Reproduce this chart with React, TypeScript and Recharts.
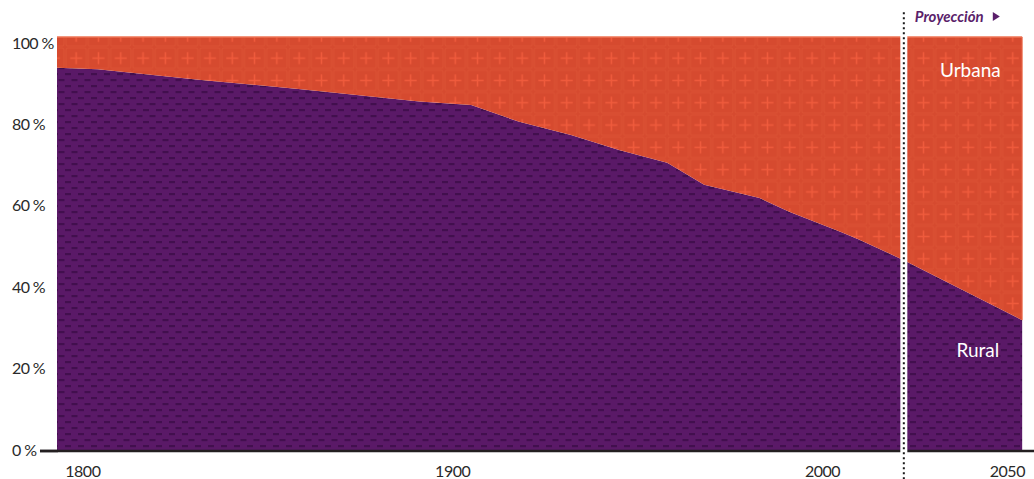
import React from 'react';
import { AreaChart, Area, XAxis, YAxis, ReferenceLine, ReferenceDot } from 'recharts';

// share of world population (%)
const years = [1793, 1804, 1832, 1859, 1891, 1905, 1918, 1932, 1945, 1958, 1962, 1968, 1983, 1991, 2005, 2010, 2022, 2054];
const rural = [92.6, 92.2, 89.6, 87.4, 84.4, 83.6, 79.5, 76.3, 72.7, 69.6, 67.5, 64.3, 61.1, 57.8, 52.9, 51.0, 46.1, 31.6];
const xTicks = [1800, 1900, 2000, 2050];
const yTicks = [0, 20, 40, 60, 80, 100];
const projectionYear = 2022;

const data = years.map((year, i) => ({
    year,
    rural: rural[i],
    urban: +(100 - rural[i]).toFixed(1)
}));

const FONT = 'Lato, "Open Sans", sans-serif';
const TEXT = '#2a2a2a';

const YTick = ({ y, payload }: any) => {
    const center = 450 - (451 - y) * 0.983;
    return (
        <g>
            <text x={12} y={center + 5.5} textAnchor="start" fontSize={16} fill={TEXT} fontFamily={FONT} letterSpacing={-0.6}>
                {payload.value} %
            </text>
            {payload.value === 0 && <line x1={40} x2={58} y1={y} y2={y} stroke="#231F20" strokeWidth={2.5} />}
        </g>
    );
};

const XTick = ({ x, payload }: any) => (
    <text x={x} y={477} textAnchor="middle" fontSize={16} fill={TEXT} fontFamily={FONT} letterSpacing={-0.5}>
        {payload.value}
    </text>
);

const ProjectionLabel = ({ viewBox }: any) => {
    const x = viewBox.x + 11;
    return (
        <g>
            <text x={x} y={22} fontSize={15} fontWeight={700} fontStyle="italic" fill="#5B1F6B" fontFamily={FONT}>
                Proyección
            </text>
            <polygon points={`${x + 78},12 ${x + 78},21 ${x + 85},16.5`} fill="#5B1F6B" />
        </g>
    );
};

export default function App() {
    return (
        <div style={{ position: 'absolute', left: 0, top: 0, width: 1034, height: 479, background: '#fff' }}>
            <AreaChart width={1034} height={479} data={data} margin={{ top: 37, right: 0, left: 0, bottom: 0 }}>
                <defs>
                    <pattern id="urbanPattern" patternUnits="userSpaceOnUse" x={65} y={47} width={22.3} height={22.3}>
                        <rect width={22.3} height={22.3} fill="#D64A2F" />
                        <rect x={1} y={1} width={20.3} height={20.3} rx={2} fill="none" stroke="#DC5234" strokeWidth={1} />
                        <rect x={5.15} y={10.4} width={12} height={1.5} fill="#F05B3C" />
                        <rect x={10.4} y={5.15} width={1.5} height={12} fill="#F05B3C" />
                    </pattern>
                    <pattern id="ruralPattern" patternUnits="userSpaceOnUse" x={0} y={0} width={13} height={12}>
                        <rect width={13} height={12} fill="#5A1967" />
                        <rect x={0} y={1} width={6} height={2.2} fill="#420F4E" />
                        <rect x={6.5} y={7} width={6} height={2.2} fill="#420F4E" />
                    </pattern>
                </defs>
                <XAxis
                    dataKey="year"
                    type="number"
                    domain={[1793, 2057.2]}
                    ticks={xTicks}
                    height={28}
                    axisLine={false}
                    tickLine={false}
                    tick={<XTick />}
                    allowDataOverflow
                />
                <YAxis
                    domain={[0, 100]}
                    ticks={yTicks}
                    width={57}
                    axisLine={false}
                    tickLine={false}
                    tick={<YTick />}
                    allowDataOverflow
                />
                <Area
                    type="linear"
                    dataKey="rural"
                    stackId="1"
                    stroke="none"
                    fill="url(#ruralPattern)"
                    fillOpacity={1}
                    isAnimationActive={false}
                />
                <Area
                    type="linear"
                    dataKey="urban"
                    stackId="1"
                    stroke="none"
                    fill="url(#urbanPattern)"
                    fillOpacity={1}
                    isAnimationActive={false}
                />
                <ReferenceLine
                    segment={[{ x: 1793, y: 100 }, { x: 2054, y: 100 }]}
                    stroke="#EE7456"
                    strokeWidth={1.5}
                    ifOverflow="visible"
                />
                <ReferenceLine
                    segment={[{ x: 2054, y: 100 }, { x: 2054, y: 31.6 }]}
                    stroke="#EE7456"
                    strokeWidth={1}
                    ifOverflow="visible"
                />
                <ReferenceLine
                    segment={[{ x: 1788.4, y: 0 }, { x: 2057.2, y: 0 }]}
                    stroke="#231F20"
                    strokeWidth={2.5}
                    ifOverflow="visible"
                />
                <ReferenceLine
                    segment={[{ x: projectionYear, y: -0.6 }, { x: projectionYear, y: 100.4 }]}
                    stroke="#ffffff"
                    strokeWidth={7}
                    ifOverflow="visible"
                />
                <ReferenceLine
                    segment={[{ x: projectionYear, y: -6.8 }, { x: projectionYear, y: 106 }]}
                    stroke="#1a1a1a"
                    strokeWidth={2}
                    strokeDasharray="2 3"
                    ifOverflow="visible"
                    label={<ProjectionLabel />}
                />
                <ReferenceDot
                    x={2040}
                    y={92}
                    r={0}
                    stroke="none"
                    label={{ value: 'Urbana', fill: '#fff', fontSize: 19, fontFamily: FONT, position: 'center' }}
                />
                <ReferenceDot
                    x={2042}
                    y={24.4}
                    r={0}
                    stroke="none"
                    label={{ value: 'Rural', fill: '#fff', fontSize: 19, fontFamily: FONT, position: 'center' }}
                />
            </AreaChart>
        </div>
    );
}
